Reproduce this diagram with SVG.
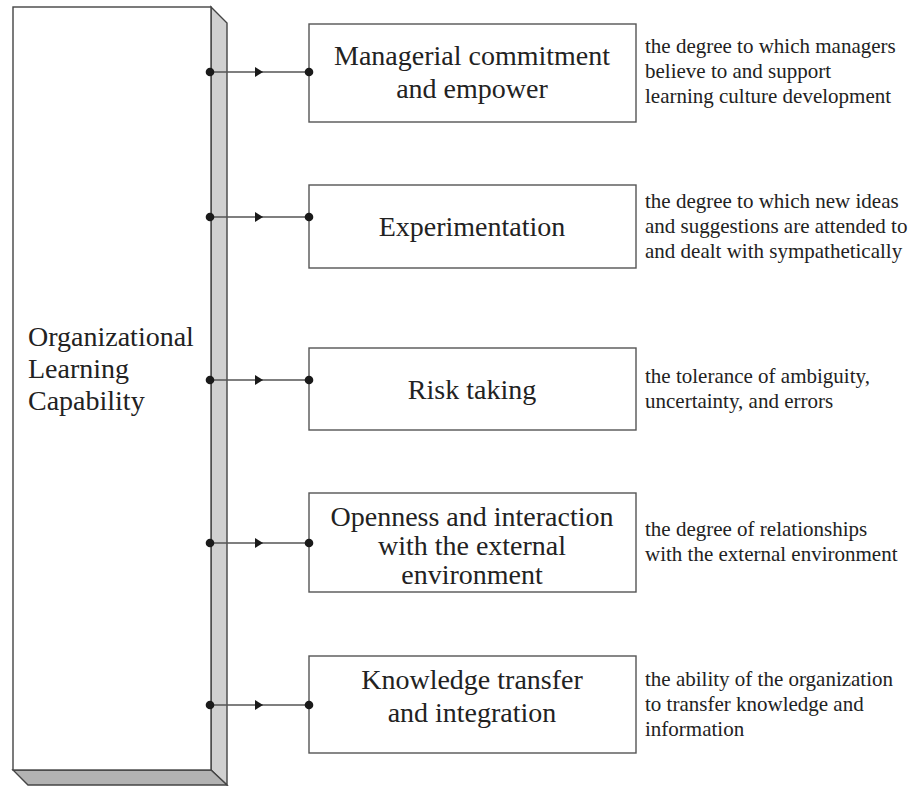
<svg xmlns="http://www.w3.org/2000/svg" width="911" height="786" viewBox="0 0 911 786">
<defs>
<style>
.edge{stroke:#555;stroke-width:1.4;fill:none}
.box{fill:#fff;stroke:#555;stroke-width:1.4}
.dot{fill:#1a1a1a}
.t{font-family:"Liberation Serif","Times New Roman",serif;fill:#222}
.big{font-size:28px;text-anchor:middle}
.lbl{font-size:28px}
.desc{font-size:21px}
</style>
<marker id="arr" viewBox="0 0 8 10" refX="8" refY="5" markerWidth="8" markerHeight="10" markerUnits="userSpaceOnUse" orient="auto">
<path d="M0,0 L8,5 L0,10 Z" fill="#1a1a1a"/>
</marker>
</defs>
<rect width="911" height="786" fill="#fff"/>
<g id="olc">
<polygon points="211,7 227,23 227,785 211,770" fill="#d0d0d0" stroke="#444" stroke-width="1.4"/>
<polygon points="13,770 211,770 227,785 28,785" fill="#b2b2b2" stroke="#444" stroke-width="1.4"/>
<rect x="13" y="7" width="198" height="763" fill="#fff" stroke="#444" stroke-width="1.4"/>
<text class="t lbl"><tspan x="28" y="346">Organizational</tspan><tspan x="28" y="378">Learning</tspan><tspan x="28" y="410">Capability</tspan></text>
</g>
<g id="n1">
<rect x="309" y="24" width="327" height="98" class="box"/>
<text class="t big"><tspan x="472" y="65">Managerial commitment</tspan><tspan x="472" y="98">and empower</tspan></text>
<text class="t desc"><tspan x="645" y="53">the degree to which managers</tspan><tspan x="645" y="78">believe to and support</tspan><tspan x="645" y="103">learning culture development</tspan></text>
</g>
<g id="n2">
<rect x="309" y="185" width="327" height="83" class="box"/>
<text class="t big" x="472" y="236">Experimentation</text>
<text class="t desc"><tspan x="645" y="208">the degree to which new ideas</tspan><tspan x="645" y="233">and suggestions are attended to</tspan><tspan x="645" y="258">and dealt with sympathetically</tspan></text>
</g>
<g id="n3">
<rect x="309" y="348" width="327" height="82" class="box"/>
<text class="t big" x="472" y="399">Risk taking</text>
<text class="t desc"><tspan x="645" y="383">the tolerance of ambiguity,</tspan><tspan x="645" y="408">uncertainty, and errors</tspan></text>
</g>
<g id="n4">
<rect x="309" y="493" width="327" height="99" class="box"/>
<text class="t big"><tspan x="472" y="526">Openness and interaction</tspan><tspan x="472" y="555">with the external</tspan><tspan x="472" y="584">environment</tspan></text>
<text class="t desc"><tspan x="645" y="536">the degree of relationships</tspan><tspan x="645" y="561">with the external environment</tspan></text>
</g>
<g id="n5">
<rect x="309" y="656" width="327" height="97" class="box"/>
<text class="t big"><tspan x="472" y="689">Knowledge transfer</tspan><tspan x="472" y="722">and integration</tspan></text>
<text class="t desc"><tspan x="645" y="686">the ability of the organization</tspan><tspan x="645" y="711">to transfer knowledge and</tspan><tspan x="645" y="736">information</tspan></text>
</g>
<g id="connectors">
<line x1="210" y1="72" x2="263" y2="72" class="edge" marker-end="url(#arr)"/><line x1="262" y1="72" x2="309" y2="72" class="edge"/>
<line x1="210" y1="217" x2="263" y2="217" class="edge" marker-end="url(#arr)"/><line x1="262" y1="217" x2="309" y2="217" class="edge"/>
<line x1="210" y1="380" x2="263" y2="380" class="edge" marker-end="url(#arr)"/><line x1="262" y1="380" x2="309" y2="380" class="edge"/>
<line x1="210" y1="543" x2="263" y2="543" class="edge" marker-end="url(#arr)"/><line x1="262" y1="543" x2="309" y2="543" class="edge"/>
<line x1="210" y1="705" x2="263" y2="705" class="edge" marker-end="url(#arr)"/><line x1="262" y1="705" x2="309" y2="705" class="edge"/>
<circle cx="210" cy="72" r="4.3" class="dot"/><circle cx="309" cy="72" r="4.3" class="dot"/>
<circle cx="210" cy="217" r="4.3" class="dot"/><circle cx="309" cy="217" r="4.3" class="dot"/>
<circle cx="210" cy="380" r="4.3" class="dot"/><circle cx="309" cy="380" r="4.3" class="dot"/>
<circle cx="210" cy="543" r="4.3" class="dot"/><circle cx="309" cy="543" r="4.3" class="dot"/>
<circle cx="210" cy="705" r="4.3" class="dot"/><circle cx="309" cy="705" r="4.3" class="dot"/>
</g>
</svg>
